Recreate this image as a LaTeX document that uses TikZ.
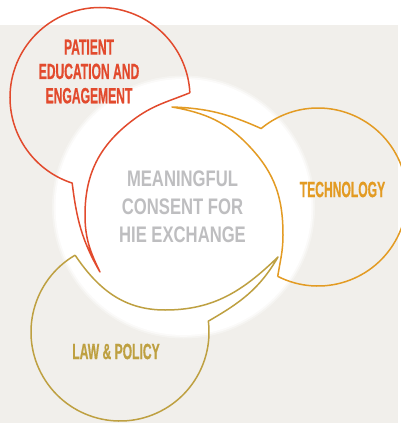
\documentclass[tikz,border=0pt]{standalone}
\usepackage{fontspec}
\setmainfont{Liberation Sans}
% condensed faces for the bubble labels and the hub text
\newfontfamily\labelfont[FakeStretch=0.55, FakeBold=0.6]{Liberation Sans}
\newfontfamily\hubfont[FakeStretch=0.74]{Liberation Sans}

\definecolor{paper}{HTML}{F1EFEB}
\definecolor{patientred}{HTML}{E24A2D}
\definecolor{techorange}{HTML}{E39B23}
\definecolor{lawgold}{HTML}{BEA041}
\definecolor{hubgray}{HTML}{BEBEC0}

\begin{document}
\begin{tikzpicture}[x=1pt,y=1pt,
  bubble/.style={line width=1.5pt, line join=round},
  lbl/.style={font=\labelfont\bfseries\fontsize{22}{24.3}\selectfont,
              align=center, inner sep=0pt},
  hub/.style={font=\hubfont\bfseries\fontsize{22.5}{28}\selectfont,
              align=center, inner sep=0pt, text=hubgray}]
\useasboundingbox (0,0) rectangle (401,-423);
\clip (0,0) rectangle (401,-423);

% page and panel background
\fill[white] (0,0) rectangle (401,-423);
\fill[paper] (0,-25) rectangle (398,-423);

% central white disc with a soft rim
\fill[white, opacity=0.35] (183.5,-207) circle[radius=131.5];
\fill[white, opacity=0.6] (183.5,-207) circle[radius=129.8];
\fill[white] (183.5,-207) circle[radius=128];

% corner points of the three speech bubbles
\path (100,-97.5) ++(3:90)   coordinate (rA);
\path (100,-97.5) ++(252:90) coordinate (rB);
\coordinate (rT) at (100,-272);

\path (318,-197) ++(243.1:89) coordinate (oB);
\path (318,-197) ++(129.7:89) coordinate (oA);
\coordinate (oT) at (172,-107);

\path (120,-332) ++(120.3:89) coordinate (gA);
\path (120,-332) ++(7:89)     coordinate (gB);
\coordinate (gT) at (278,-257);

% patient education bubble
\draw[bubble, patientred] (rA) arc[start angle=3, end angle=252, radius=90]
  to[out=-83, in=120] (rT)
  to[out=116, in=-90] (85,-215)
  to[out=90, in=217] (133,-120)
  to[out=37, in=202] (rA);

% technology bubble
\draw[bubble, techorange] (oB) arc[start angle=243.1, end angle=489.7, radius=89]
  to[out=156, in=-2] (oT)
  to[out=-10, in=133] (250,-147)
  to[out=-47, in=90] (283,-235)
  to[out=-90, in=81] (oB);

% law and policy bubble
\draw[bubble, lawgold] (gA) arc[start angle=120.3, end angle=367, radius=89]
  to[out=30, in=240] (gT)
  to[out=224, in=0] (165,-310)
  to[out=180, in=-56] (gA);

% labels
\node[lbl, text=patientred] (patient) at (89,-71.5) {PATIENT\\EDUCATION AND\\ENGAGEMENT};
\node[lbl, text=techorange] (tech) at (342.5,-189.5) {TECHNOLOGY};
\node[lbl, text=lawgold] (law) at (116,-351.5) {LAW \& POLICY};
\node[hub] (consent) at (182.5,-207) {MEANINGFUL\\CONSENT FOR\\HIE EXCHANGE};
\end{tikzpicture}
\end{document}
